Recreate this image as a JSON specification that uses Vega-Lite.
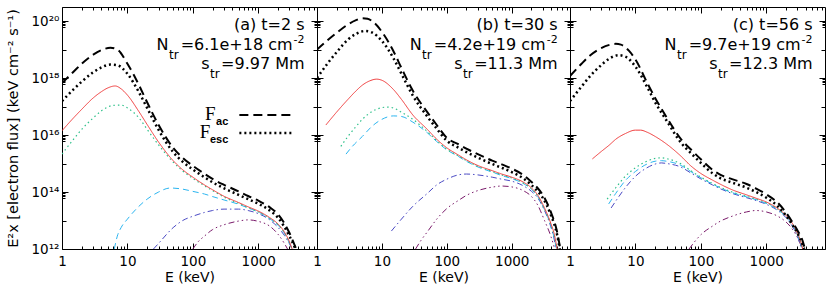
{
  "$schema": "https://vega.github.io/schema/vega-lite/v6.json",
  "padding": {"left": 5, "top": 6, "right": 2, "bottom": 0},
  "background": "white",
  "config": {
    "view": {"stroke": "black", "strokeWidth": 1},
    "font": "DejaVu Sans",
    "axis": {"grid": false, "domain": false, "labelFont": "DejaVu Sans", "titleFont": "DejaVu Sans", "labelFontSize": 13.5, "titleFontSize": 14, "titleFontWeight": "normal", "labelColor": "black", "titleColor": "black", "tickColor": "black", "tickWidth": 1, "labelFlush": false, "labelOverlap": false},
    "text": {"font": "DejaVu Sans", "color": "black", "fontSize": 16, "baseline": "middle", "align": "right"}
  },
  "datasets": {
    "curves": [
      {"p":"a","s":"s5","E":100,"F":1e12},{"p":"a","s":"s5","E":120,"F":1.78e12},{"p":"a","s":"s5","E":150,"F":2.82e12},{"p":"a","s":"s5","E":200,"F":4.79e12},{"p":"a","s":"s5","E":300,"F":7.08e12},{"p":"a","s":"s5","E":500,"F":9.55e12},{"p":"a","s":"s5","E":700,"F":1.05e13},{"p":"a","s":"s5","E":1000,"F":9.33e12},{"p":"a","s":"s5","E":1500,"F":6.31e12},{"p":"a","s":"s5","E":2000,"F":3.31e12},{"p":"a","s":"s5","E":2500,"F":1.58e12},{"p":"a","s":"s5","E":2800,"F":1e12},
      {"p":"a","s":"s4","E":25,"F":1e12},{"p":"a","s":"s4","E":30,"F":1.58e12},{"p":"a","s":"s4","E":50,"F":5.62e12},{"p":"a","s":"s4","E":70,"F":1e13},{"p":"a","s":"s4","E":100,"F":1.41e13},{"p":"a","s":"s4","E":150,"F":1.91e13},{"p":"a","s":"s4","E":200,"F":2.24e13},{"p":"a","s":"s4","E":300,"F":2.51e13},{"p":"a","s":"s4","E":500,"F":2.51e13},{"p":"a","s":"s4","E":700,"F":2.24e13},{"p":"a","s":"s4","E":1000,"F":1.74e13},{"p":"a","s":"s4","E":1500,"F":1.05e13},{"p":"a","s":"s4","E":2000,"F":5.75e12},{"p":"a","s":"s4","E":2500,"F":3.02e12},{"p":"a","s":"s4","E":3000,"F":1.51e12},{"p":"a","s":"s4","E":3300,"F":1e12},
      {"p":"a","s":"s3","E":6.3,"F":1e12},{"p":"a","s":"s3","E":7,"F":2.82e12},{"p":"a","s":"s3","E":8,"F":5.62e12},{"p":"a","s":"s3","E":10,"F":1.12e13},{"p":"a","s":"s3","E":15,"F":3.16e13},{"p":"a","s":"s3","E":20,"F":5.62e13},{"p":"a","s":"s3","E":30,"F":1e14},{"p":"a","s":"s3","E":45,"F":1.38e14},{"p":"a","s":"s3","E":70,"F":1.26e14},{"p":"a","s":"s3","E":100,"F":1.05e14},{"p":"a","s":"s3","E":150,"F":8.51e13},{"p":"a","s":"s3","E":200,"F":6.92e13},{"p":"a","s":"s3","E":300,"F":5.25e13},{"p":"a","s":"s3","E":500,"F":3.72e13},{"p":"a","s":"s3","E":700,"F":2.75e13},{"p":"a","s":"s3","E":1000,"F":2e13},{"p":"a","s":"s3","E":1500,"F":1.15e13},{"p":"a","s":"s3","E":2000,"F":6.92e12},{"p":"a","s":"s3","E":2500,"F":3.63e12},{"p":"a","s":"s3","E":3000,"F":1.58e12},{"p":"a","s":"s3","E":3300,"F":9.3e11},
      {"p":"a","s":"s2","E":1,"F":2.14e15},{"p":"a","s":"s2","E":1.5,"F":7.08e15},{"p":"a","s":"s2","E":2,"F":1.58e16},{"p":"a","s":"s2","E":3,"F":3.98e16},{"p":"a","s":"s2","E":4,"F":7.08e16},{"p":"a","s":"s2","E":5,"F":9.55e16},{"p":"a","s":"s2","E":6,"F":1.1e17},{"p":"a","s":"s2","E":8,"F":1.12e17},{"p":"a","s":"s2","E":10,"F":8.91e16},{"p":"a","s":"s2","E":15,"F":3.98e16},{"p":"a","s":"s2","E":20,"F":1.58e16},{"p":"a","s":"s2","E":30,"F":4.47e15},{"p":"a","s":"s2","E":50,"F":1.12e15},{"p":"a","s":"s2","E":70,"F":5.5e14},{"p":"a","s":"s2","E":100,"F":3.02e14},{"p":"a","s":"s2","E":150,"F":1.66e14},{"p":"a","s":"s2","E":200,"F":1.12e14},{"p":"a","s":"s2","E":300,"F":6.61e13},{"p":"a","s":"s2","E":500,"F":3.98e13},{"p":"a","s":"s2","E":700,"F":2.82e13},{"p":"a","s":"s2","E":1000,"F":2e13},{"p":"a","s":"s2","E":1500,"F":1.17e13},{"p":"a","s":"s2","E":2000,"F":7.08e12},{"p":"a","s":"s2","E":2500,"F":3.72e12},{"p":"a","s":"s2","E":3000,"F":1.66e12},{"p":"a","s":"s2","E":3300,"F":9.5e11},
      {"p":"a","s":"s1","E":1,"F":1.41e16},{"p":"a","s":"s1","E":1.5,"F":3.98e16},{"p":"a","s":"s1","E":2,"F":7.94e16},{"p":"a","s":"s1","E":3,"F":2e17},{"p":"a","s":"s1","E":4,"F":3.31e17},{"p":"a","s":"s1","E":5,"F":4.47e17},{"p":"a","s":"s1","E":6.5,"F":5.25e17},{"p":"a","s":"s1","E":8,"F":4.17e17},{"p":"a","s":"s1","E":10,"F":2.51e17},{"p":"a","s":"s1","E":15,"F":6.61e16},{"p":"a","s":"s1","E":20,"F":2.34e16},{"p":"a","s":"s1","E":30,"F":5.62e15},{"p":"a","s":"s1","E":50,"F":1.26e15},{"p":"a","s":"s1","E":70,"F":6.03e14},{"p":"a","s":"s1","E":100,"F":3.31e14},{"p":"a","s":"s1","E":150,"F":1.78e14},{"p":"a","s":"s1","E":200,"F":1.2e14},{"p":"a","s":"s1","E":300,"F":7.08e13},{"p":"a","s":"s1","E":500,"F":4.27e13},{"p":"a","s":"s1","E":700,"F":3.02e13},{"p":"a","s":"s1","E":1000,"F":2.14e13},{"p":"a","s":"s1","E":1500,"F":1.26e13},{"p":"a","s":"s1","E":2000,"F":7.59e12},{"p":"a","s":"s1","E":2500,"F":3.98e12},{"p":"a","s":"s1","E":3000,"F":1.78e12},{"p":"a","s":"s1","E":3300,"F":1e12},
      {"p":"a","s":"Fesc","E":1,"F":1.55e17},{"p":"a","s":"Fesc","E":1.5,"F":3.98e17},{"p":"a","s":"Fesc","E":2,"F":7.41e17},{"p":"a","s":"Fesc","E":3,"F":1.58e18},{"p":"a","s":"Fesc","E":4,"F":2.34e18},{"p":"a","s":"Fesc","E":5.5,"F":2.95e18},{"p":"a","s":"Fesc","E":7,"F":2.82e18},{"p":"a","s":"Fesc","E":10,"F":1.41e18},{"p":"a","s":"Fesc","E":15,"F":3.16e17},{"p":"a","s":"Fesc","E":20,"F":8.91e16},{"p":"a","s":"Fesc","E":30,"F":1.51e16},{"p":"a","s":"Fesc","E":50,"F":2.51e15},{"p":"a","s":"Fesc","E":70,"F":1.15e15},{"p":"a","s":"Fesc","E":100,"F":6.17e14},{"p":"a","s":"Fesc","E":150,"F":3.31e14},{"p":"a","s":"Fesc","E":200,"F":2.19e14},{"p":"a","s":"Fesc","E":300,"F":1.35e14},{"p":"a","s":"Fesc","E":500,"F":7.94e13},{"p":"a","s":"Fesc","E":700,"F":5.62e13},{"p":"a","s":"Fesc","E":1000,"F":3.89e13},{"p":"a","s":"Fesc","E":1500,"F":2.24e13},{"p":"a","s":"Fesc","E":2000,"F":1.26e13},{"p":"a","s":"Fesc","E":3000,"F":2.82e12},{"p":"a","s":"Fesc","E":3700,"F":1e12},
      {"p":"a","s":"Fac","E":1,"F":6.6e17},{"p":"a","s":"Fac","E":1.5,"F":1.66e18},{"p":"a","s":"Fac","E":2,"F":3.16e18},{"p":"a","s":"Fac","E":3,"F":6.61e18},{"p":"a","s":"Fac","E":4,"F":9.55e18},{"p":"a","s":"Fac","E":5.5,"F":1.15e19},{"p":"a","s":"Fac","E":7,"F":1e19},{"p":"a","s":"Fac","E":10,"F":3.16e18},{"p":"a","s":"Fac","E":15,"F":5.62e17},{"p":"a","s":"Fac","E":20,"F":1.41e17},{"p":"a","s":"Fac","E":30,"F":2.24e16},{"p":"a","s":"Fac","E":50,"F":3.55e15},{"p":"a","s":"Fac","E":70,"F":1.58e15},{"p":"a","s":"Fac","E":100,"F":8.32e14},{"p":"a","s":"Fac","E":150,"F":4.37e14},{"p":"a","s":"Fac","E":200,"F":2.88e14},{"p":"a","s":"Fac","E":300,"F":1.78e14},{"p":"a","s":"Fac","E":500,"F":1.05e14},{"p":"a","s":"Fac","E":700,"F":7.24e13},{"p":"a","s":"Fac","E":1000,"F":5.01e13},{"p":"a","s":"Fac","E":1500,"F":2.88e13},{"p":"a","s":"Fac","E":2000,"F":1.66e13},{"p":"a","s":"Fac","E":3000,"F":3.63e12},{"p":"a","s":"Fac","E":3800,"F":1e12},

      {"p":"b","s":"s5","E":33,"F":1e12},{"p":"b","s":"s5","E":40,"F":2e12},{"p":"b","s":"s5","E":50,"F":3.98e12},{"p":"b","s":"s5","E":70,"F":1.12e13},{"p":"b","s":"s5","E":100,"F":2.63e13},{"p":"b","s":"s5","E":150,"F":5.01e13},{"p":"b","s":"s5","E":200,"F":7.59e13},{"p":"b","s":"s5","E":300,"F":1.12e14},{"p":"b","s":"s5","E":500,"F":1.48e14},{"p":"b","s":"s5","E":700,"F":1.62e14},{"p":"b","s":"s5","E":1000,"F":1.51e14},{"p":"b","s":"s5","E":1500,"F":1.12e14},{"p":"b","s":"s5","E":2000,"F":7.08e13},{"p":"b","s":"s5","E":2500,"F":3.55e13},{"p":"b","s":"s5","E":3200,"F":1e13},{"p":"b","s":"s5","E":4000,"F":2.82e12},{"p":"b","s":"s5","E":4600,"F":1e12},
      {"p":"b","s":"s4","E":14,"F":4.27e12},{"p":"b","s":"s4","E":20,"F":1.12e13},{"p":"b","s":"s4","E":30,"F":3.16e13},{"p":"b","s":"s4","E":50,"F":8.91e13},{"p":"b","s":"s4","E":70,"F":1.78e14},{"p":"b","s":"s4","E":100,"F":2.82e14},{"p":"b","s":"s4","E":150,"F":3.98e14},{"p":"b","s":"s4","E":200,"F":4.27e14},{"p":"b","s":"s4","E":300,"F":3.98e14},{"p":"b","s":"s4","E":500,"F":3.31e14},{"p":"b","s":"s4","E":700,"F":2.82e14},{"p":"b","s":"s4","E":1000,"F":2.4e14},{"p":"b","s":"s4","E":1500,"F":1.66e14},{"p":"b","s":"s4","E":2000,"F":1.07e14},{"p":"b","s":"s4","E":2500,"F":6.31e13},{"p":"b","s":"s4","E":3200,"F":2.24e13},{"p":"b","s":"s4","E":4000,"F":6.03e12},{"p":"b","s":"s4","E":4500,"F":2.24e12},{"p":"b","s":"s4","E":4800,"F":1e12},
      {"p":"b","s":"s3","E":2.8,"F":2.14e15},{"p":"b","s":"s3","E":3.5,"F":3.98e15},{"p":"b","s":"s3","E":5,"F":8.91e15},{"p":"b","s":"s3","E":7,"F":2e16},{"p":"b","s":"s3","E":10,"F":3.55e16},{"p":"b","s":"s3","E":15,"F":4.68e16},{"p":"b","s":"s3","E":20,"F":4.47e16},{"p":"b","s":"s3","E":30,"F":2.82e16},{"p":"b","s":"s3","E":50,"F":1.2e16},{"p":"b","s":"s3","E":70,"F":5.89e15},{"p":"b","s":"s3","E":100,"F":3.02e15},{"p":"b","s":"s3","E":150,"F":1.78e15},{"p":"b","s":"s3","E":200,"F":1.2e15},{"p":"b","s":"s3","E":300,"F":7.59e14},{"p":"b","s":"s3","E":500,"F":5.01e14},{"p":"b","s":"s3","E":700,"F":3.8e14},{"p":"b","s":"s3","E":1000,"F":2.95e14},{"p":"b","s":"s3","E":1500,"F":2e14},{"p":"b","s":"s3","E":2000,"F":1.26e14},{"p":"b","s":"s3","E":2500,"F":7.08e13},{"p":"b","s":"s3","E":3200,"F":2.4e13},{"p":"b","s":"s3","E":4000,"F":6.61e12},{"p":"b","s":"s3","E":4500,"F":2.51e12},{"p":"b","s":"s3","E":4900,"F":1e12},
      {"p":"b","s":"s2","E":2.33,"F":3.98e15},{"p":"b","s":"s2","E":3,"F":8.91e15},{"p":"b","s":"s2","E":4,"F":2e16},{"p":"b","s":"s2","E":5,"F":3.55e16},{"p":"b","s":"s2","E":7,"F":6.61e16},{"p":"b","s":"s2","E":10,"F":9.12e16},{"p":"b","s":"s2","E":12,"F":9.55e16},{"p":"b","s":"s2","E":15,"F":8.91e16},{"p":"b","s":"s2","E":20,"F":6.31e16},{"p":"b","s":"s2","E":30,"F":3.55e16},{"p":"b","s":"s2","E":50,"F":1.32e16},{"p":"b","s":"s2","E":70,"F":6.31e15},{"p":"b","s":"s2","E":100,"F":3.16e15},{"p":"b","s":"s2","E":150,"F":1.86e15},{"p":"b","s":"s2","E":200,"F":1.26e15},{"p":"b","s":"s2","E":300,"F":7.94e14},{"p":"b","s":"s2","E":500,"F":5.25e14},{"p":"b","s":"s2","E":700,"F":3.98e14},{"p":"b","s":"s2","E":1000,"F":3.09e14},{"p":"b","s":"s2","E":1500,"F":2.09e14},{"p":"b","s":"s2","E":2000,"F":1.32e14},{"p":"b","s":"s2","E":2500,"F":7.41e13},{"p":"b","s":"s2","E":3200,"F":2.51e13},{"p":"b","s":"s2","E":4000,"F":7.24e12},{"p":"b","s":"s2","E":4600,"F":2.51e12},{"p":"b","s":"s2","E":5000,"F":9.3e11},
      {"p":"b","s":"s1","E":1.37,"F":2.24e16},{"p":"b","s":"s1","E":2,"F":6.31e16},{"p":"b","s":"s1","E":3,"F":1.78e17},{"p":"b","s":"s1","E":4,"F":3.55e17},{"p":"b","s":"s1","E":5,"F":5.62e17},{"p":"b","s":"s1","E":6.5,"F":7.94e17},{"p":"b","s":"s1","E":8.3,"F":9.12e17},{"p":"b","s":"s1","E":10,"F":8.32e17},{"p":"b","s":"s1","E":15,"F":3.98e17},{"p":"b","s":"s1","E":20,"F":1.78e17},{"p":"b","s":"s1","E":30,"F":5.01e16},{"p":"b","s":"s1","E":50,"F":1.58e16},{"p":"b","s":"s1","E":70,"F":7.08e15},{"p":"b","s":"s1","E":100,"F":3.55e15},{"p":"b","s":"s1","E":150,"F":2e15},{"p":"b","s":"s1","E":200,"F":1.35e15},{"p":"b","s":"s1","E":300,"F":8.51e14},{"p":"b","s":"s1","E":500,"F":5.62e14},{"p":"b","s":"s1","E":700,"F":4.27e14},{"p":"b","s":"s1","E":1000,"F":3.31e14},{"p":"b","s":"s1","E":1500,"F":2.24e14},{"p":"b","s":"s1","E":2000,"F":1.41e14},{"p":"b","s":"s1","E":2500,"F":7.94e13},{"p":"b","s":"s1","E":3200,"F":2.75e13},{"p":"b","s":"s1","E":4000,"F":7.94e12},{"p":"b","s":"s1","E":4600,"F":2.82e12},{"p":"b","s":"s1","E":5000,"F":1e12},
      {"p":"b","s":"Fesc","E":1,"F":1e18},{"p":"b","s":"Fesc","E":1.5,"F":3.55e18},{"p":"b","s":"Fesc","E":2,"F":7.94e18},{"p":"b","s":"Fesc","E":3,"F":2.24e19},{"p":"b","s":"Fesc","E":4,"F":3.55e19},{"p":"b","s":"Fesc","E":5.5,"F":4.47e19},{"p":"b","s":"Fesc","E":7,"F":3.98e19},{"p":"b","s":"Fesc","E":10,"F":2e19},{"p":"b","s":"Fesc","E":15,"F":5.01e18},{"p":"b","s":"Fesc","E":20,"F":1.41e18},{"p":"b","s":"Fesc","E":30,"F":2.4e17},{"p":"b","s":"Fesc","E":50,"F":4.47e16},{"p":"b","s":"Fesc","E":70,"F":1.66e16},{"p":"b","s":"Fesc","E":100,"F":6.31e15},{"p":"b","s":"Fesc","E":150,"F":3.63e15},{"p":"b","s":"Fesc","E":200,"F":2.51e15},{"p":"b","s":"Fesc","E":300,"F":1.62e15},{"p":"b","s":"Fesc","E":500,"F":9.55e14},{"p":"b","s":"Fesc","E":700,"F":7.08e14},{"p":"b","s":"Fesc","E":1000,"F":5.01e14},{"p":"b","s":"Fesc","E":1500,"F":3.02e14},{"p":"b","s":"Fesc","E":2000,"F":1.78e14},{"p":"b","s":"Fesc","E":2500,"F":1.07e14},{"p":"b","s":"Fesc","E":3000,"F":6.31e13},{"p":"b","s":"Fesc","E":4000,"F":1.58e13},{"p":"b","s":"Fesc","E":5000,"F":3.16e12},{"p":"b","s":"Fesc","E":5500,"F":1e12},
      {"p":"b","s":"Fac","E":1,"F":1e19},{"p":"b","s":"Fac","E":1.5,"F":2.24e19},{"p":"b","s":"Fac","E":2,"F":3.8e19},{"p":"b","s":"Fac","E":3,"F":7.59e19},{"p":"b","s":"Fac","E":4,"F":1.07e20},{"p":"b","s":"Fac","E":5,"F":1.26e20},{"p":"b","s":"Fac","E":6,"F":1.2e20},{"p":"b","s":"Fac","E":7.5,"F":8.91e19},{"p":"b","s":"Fac","E":10,"F":4.17e19},{"p":"b","s":"Fac","E":15,"F":8.91e18},{"p":"b","s":"Fac","E":20,"F":2.24e18},{"p":"b","s":"Fac","E":30,"F":3.55e17},{"p":"b","s":"Fac","E":50,"F":6.31e16},{"p":"b","s":"Fac","E":70,"F":2.24e16},{"p":"b","s":"Fac","E":100,"F":7.94e15},{"p":"b","s":"Fac","E":150,"F":4.79e15},{"p":"b","s":"Fac","E":200,"F":3.31e15},{"p":"b","s":"Fac","E":300,"F":2.14e15},{"p":"b","s":"Fac","E":500,"F":1.26e15},{"p":"b","s":"Fac","E":700,"F":9.33e14},{"p":"b","s":"Fac","E":1000,"F":6.61e14},{"p":"b","s":"Fac","E":1500,"F":3.98e14},{"p":"b","s":"Fac","E":2000,"F":2.29e14},{"p":"b","s":"Fac","E":2500,"F":1.38e14},{"p":"b","s":"Fac","E":3000,"F":7.94e13},{"p":"b","s":"Fac","E":4000,"F":2e13},{"p":"b","s":"Fac","E":5000,"F":3.98e12},{"p":"b","s":"Fac","E":5600,"F":1e12},

      {"p":"c","s":"s5","E":66,"F":1e12},{"p":"c","s":"s5","E":80,"F":1.78e12},{"p":"c","s":"s5","E":100,"F":3.16e12},{"p":"c","s":"s5","E":150,"F":6.31e12},{"p":"c","s":"s5","E":200,"F":9.55e12},{"p":"c","s":"s5","E":300,"F":1.41e13},{"p":"c","s":"s5","E":500,"F":2e13},{"p":"c","s":"s5","E":700,"F":2.24e13},{"p":"c","s":"s5","E":1000,"F":2e13},{"p":"c","s":"s5","E":1500,"F":1.41e13},{"p":"c","s":"s5","E":2000,"F":8.91e12},{"p":"c","s":"s5","E":2500,"F":5.01e12},{"p":"c","s":"s5","E":3000,"F":2.51e12},{"p":"c","s":"s5","E":3500,"F":1.12e12},
      {"p":"c","s":"s4","E":4.25,"F":2.75e13},{"p":"c","s":"s4","E":5,"F":4.79e13},{"p":"c","s":"s4","E":7,"F":1.41e14},{"p":"c","s":"s4","E":10,"F":3.55e14},{"p":"c","s":"s4","E":15,"F":7.08e14},{"p":"c","s":"s4","E":20,"F":9.55e14},{"p":"c","s":"s4","E":25,"F":1.05e15},{"p":"c","s":"s4","E":30,"F":1e15},{"p":"c","s":"s4","E":50,"F":7.41e14},{"p":"c","s":"s4","E":70,"F":4.68e14},{"p":"c","s":"s4","E":100,"F":2.88e14},{"p":"c","s":"s4","E":150,"F":1.78e14},{"p":"c","s":"s4","E":200,"F":1.29e14},{"p":"c","s":"s4","E":300,"F":8.91e13},{"p":"c","s":"s4","E":500,"F":6.31e13},{"p":"c","s":"s4","E":700,"F":5.01e13},{"p":"c","s":"s4","E":1000,"F":3.72e13},{"p":"c","s":"s4","E":1500,"F":2.24e13},{"p":"c","s":"s4","E":2000,"F":1.26e13},{"p":"c","s":"s4","E":2500,"F":6.31e12},{"p":"c","s":"s4","E":3000,"F":2.82e12},{"p":"c","s":"s4","E":3400,"F":1.12e12},
      {"p":"c","s":"s3","E":3.9,"F":3.8e13},{"p":"c","s":"s3","E":5,"F":8.91e13},{"p":"c","s":"s3","E":7,"F":2.51e14},{"p":"c","s":"s3","E":10,"F":5.25e14},{"p":"c","s":"s3","E":15,"F":9.55e14},{"p":"c","s":"s3","E":20,"F":1.2e15},{"p":"c","s":"s3","E":25,"F":1.26e15},{"p":"c","s":"s3","E":30,"F":1.2e15},{"p":"c","s":"s3","E":50,"F":8.51e14},{"p":"c","s":"s3","E":70,"F":5.25e14},{"p":"c","s":"s3","E":100,"F":3.16e14},{"p":"c","s":"s3","E":150,"F":1.91e14},{"p":"c","s":"s3","E":200,"F":1.38e14},{"p":"c","s":"s3","E":300,"F":9.55e13},{"p":"c","s":"s3","E":500,"F":6.76e13},{"p":"c","s":"s3","E":700,"F":5.37e13},{"p":"c","s":"s3","E":1000,"F":3.98e13},{"p":"c","s":"s3","E":1500,"F":2.4e13},{"p":"c","s":"s3","E":2000,"F":1.38e13},{"p":"c","s":"s3","E":2500,"F":7.08e12},{"p":"c","s":"s3","E":3000,"F":3.16e12},{"p":"c","s":"s3","E":3500,"F":1.12e12},
      {"p":"c","s":"s2","E":3.7,"F":5.62e13},{"p":"c","s":"s2","E":5,"F":1.41e14},{"p":"c","s":"s2","E":7,"F":3.55e14},{"p":"c","s":"s2","E":10,"F":7.08e14},{"p":"c","s":"s2","E":15,"F":1.2e15},{"p":"c","s":"s2","E":20,"F":1.51e15},{"p":"c","s":"s2","E":25,"F":1.58e15},{"p":"c","s":"s2","E":30,"F":1.48e15},{"p":"c","s":"s2","E":50,"F":9.55e14},{"p":"c","s":"s2","E":70,"F":5.62e14},{"p":"c","s":"s2","E":100,"F":3.31e14},{"p":"c","s":"s2","E":150,"F":2e14},{"p":"c","s":"s2","E":200,"F":1.45e14},{"p":"c","s":"s2","E":300,"F":1e14},{"p":"c","s":"s2","E":500,"F":7.08e13},{"p":"c","s":"s2","E":700,"F":5.62e13},{"p":"c","s":"s2","E":1000,"F":4.17e13},{"p":"c","s":"s2","E":1500,"F":2.51e13},{"p":"c","s":"s2","E":2000,"F":1.45e13},{"p":"c","s":"s2","E":2500,"F":7.59e12},{"p":"c","s":"s2","E":3000,"F":3.39e12},{"p":"c","s":"s2","E":3500,"F":1.26e12},{"p":"c","s":"s2","E":3600,"F":1e12},
      {"p":"c","s":"s1","E":2.2,"F":1.45e15},{"p":"c","s":"s1","E":3,"F":2.63e15},{"p":"c","s":"s1","E":4,"F":4.47e15},{"p":"c","s":"s1","E":5,"F":7.08e15},{"p":"c","s":"s1","E":7,"F":1.12e16},{"p":"c","s":"s1","E":10,"F":1.48e16},{"p":"c","s":"s1","E":12,"F":1.48e16},{"p":"c","s":"s1","E":15,"F":1.26e16},{"p":"c","s":"s1","E":20,"F":8.91e15},{"p":"c","s":"s1","E":30,"F":4.79e15},{"p":"c","s":"s1","E":50,"F":1.78e15},{"p":"c","s":"s1","E":70,"F":8.32e14},{"p":"c","s":"s1","E":100,"F":4.47e14},{"p":"c","s":"s1","E":150,"F":2.63e14},{"p":"c","s":"s1","E":200,"F":1.86e14},{"p":"c","s":"s1","E":300,"F":1.2e14},{"p":"c","s":"s1","E":500,"F":7.94e13},{"p":"c","s":"s1","E":700,"F":6.03e13},{"p":"c","s":"s1","E":1000,"F":4.47e13},{"p":"c","s":"s1","E":1500,"F":2.63e13},{"p":"c","s":"s1","E":2000,"F":1.51e13},{"p":"c","s":"s1","E":2500,"F":7.94e12},{"p":"c","s":"s1","E":3000,"F":3.55e12},{"p":"c","s":"s1","E":3500,"F":1.32e12},{"p":"c","s":"s1","E":3600,"F":1e12},
      {"p":"c","s":"Fesc","E":1,"F":1.55e17},{"p":"c","s":"Fesc","E":1.5,"F":5.01e17},{"p":"c","s":"Fesc","E":2,"F":1.12e18},{"p":"c","s":"Fesc","E":3,"F":2.82e18},{"p":"c","s":"Fesc","E":4,"F":4.79e18},{"p":"c","s":"Fesc","E":5.5,"F":6.31e18},{"p":"c","s":"Fesc","E":7,"F":5.62e18},{"p":"c","s":"Fesc","E":10,"F":2.51e18},{"p":"c","s":"Fesc","E":15,"F":5.01e17},{"p":"c","s":"Fesc","E":20,"F":1.41e17},{"p":"c","s":"Fesc","E":30,"F":3.16e16},{"p":"c","s":"Fesc","E":50,"F":5.25e15},{"p":"c","s":"Fesc","E":70,"F":2.34e15},{"p":"c","s":"Fesc","E":100,"F":1.05e15},{"p":"c","s":"Fesc","E":150,"F":4.57e14},{"p":"c","s":"Fesc","E":200,"F":3.02e14},{"p":"c","s":"Fesc","E":300,"F":2.14e14},{"p":"c","s":"Fesc","E":500,"F":1.41e14},{"p":"c","s":"Fesc","E":700,"F":1e14},{"p":"c","s":"Fesc","E":1000,"F":6.31e13},{"p":"c","s":"Fesc","E":1500,"F":3.16e13},{"p":"c","s":"Fesc","E":2000,"F":1.48e13},{"p":"c","s":"Fesc","E":2500,"F":7.08e12},{"p":"c","s":"Fesc","E":3000,"F":3.55e12},{"p":"c","s":"Fesc","E":3600,"F":1.41e12},{"p":"c","s":"Fesc","E":3800,"F":1e12},
      {"p":"c","s":"Fac","E":1,"F":1.17e18},{"p":"c","s":"Fac","E":1.5,"F":3.16e18},{"p":"c","s":"Fac","E":2,"F":6.03e18},{"p":"c","s":"Fac","E":3,"F":1.12e19},{"p":"c","s":"Fac","E":4,"F":1.45e19},{"p":"c","s":"Fac","E":5,"F":1.58e19},{"p":"c","s":"Fac","E":6,"F":1.48e19},{"p":"c","s":"Fac","E":8,"F":8.91e18},{"p":"c","s":"Fac","E":10,"F":4.47e18},{"p":"c","s":"Fac","E":15,"F":7.08e17},{"p":"c","s":"Fac","E":20,"F":2e17},{"p":"c","s":"Fac","E":30,"F":4.17e16},{"p":"c","s":"Fac","E":50,"F":7.08e15},{"p":"c","s":"Fac","E":70,"F":3.16e15},{"p":"c","s":"Fac","E":100,"F":1.41e15},{"p":"c","s":"Fac","E":150,"F":6.03e14},{"p":"c","s":"Fac","E":200,"F":3.98e14},{"p":"c","s":"Fac","E":300,"F":2.82e14},{"p":"c","s":"Fac","E":500,"F":1.91e14},{"p":"c","s":"Fac","E":700,"F":1.32e14},{"p":"c","s":"Fac","E":1000,"F":8.32e13},{"p":"c","s":"Fac","E":1500,"F":4.17e13},{"p":"c","s":"Fac","E":2000,"F":1.91e13},{"p":"c","s":"Fac","E":2500,"F":8.91e12},{"p":"c","s":"Fac","E":3000,"F":4.47e12},{"p":"c","s":"Fac","E":3600,"F":1.91e12},{"p":"c","s":"Fac","E":3900,"F":1e12}
    ],
    "notes": [
      {"p":"a","E":5100,"F1":7.2e19,"F2":1.45e19,"F3":3.1e18,"l1":"(a) t=2 s","l2":"=6.1e+18 cm","l3":"=9.97 Mm"},
      {"p":"b","E":5100,"F1":7.2e19,"F2":1.45e19,"F3":3.1e18,"l1":"(b) t=30 s","l2":"=4.2e+19 cm","l3":"=11.3 Mm"},
      {"p":"c","E":5100,"F1":7.2e19,"F2":1.45e19,"F3":3.1e18,"l1":"(c) t=56 s","l2":"=9.7e+19 cm","l3":"=12.3 Mm"}
    ]
  },
  "spacing": 0,
  "bounds": "flush",
  "hconcat": [
    {
      "width": 255, "height": 242,
      "resolve": {"axis": {"x": "independent", "y": "independent"}},
      "layer": [
        {
          "data": {"name": "curves"},
          "transform": [{"filter": "datum.p == 'a'"}],
          "mark": {"type": "line", "interpolate": "monotone", "clip": true},
          "encoding": {
            "x": {"field": "E", "type": "quantitative", "scale": {"type": "log", "domain": [1, 7900]}, "axis": {"orient": "bottom", "values": [1, 10, 100, 1000], "format": "d", "tickSize": -6, "labelPadding": 11, "title": "E (keV)", "titlePadding": 3}},
            "y": {"field": "F", "type": "quantitative", "scale": {"type": "log", "domain": [1e12, 3.1e20]}, "axis": {"orient": "left", "values": [1e12, 1e14, 1e16, 1e18, 1e20], "tickSize": -6, "labelPadding": 9, "labelExpr": "datum.value > 5e19 ? '10²⁰' : datum.value > 5e17 ? '10¹⁸' : datum.value > 5e15 ? '10¹⁶' : datum.value > 5e13 ? '10¹⁴' : '10¹²'", "title": "E²x [electron flux] (keV cm⁻² s⁻¹)", "titleFontSize": 14.5, "titlePadding": 10}},
            "color": {"field": "s", "type": "nominal", "scale": {"domain": ["s5","s4","s3","s2","s1","Fesc","Fac"], "range": ["#7a1a6a","#4a4ac4","#2bb5f0","#2ec08a","#f03a3a","#000000","#000000"]}, "legend": null},
            "strokeDash": {"field": "s", "type": "nominal", "scale": {"domain": ["s5","s4","s3","s2","s1","Fesc","Fac"], "range": [[6,3,1.5,3,1.5,3,1.5,3],[6,3,1.5,3],[6,4],[1.5,3],[1,0],[2,3],[9,5]]}, "legend": null},
            "strokeWidth": {"field": "s", "type": "nominal", "scale": {"type": "ordinal", "domain": ["s5","s4","s3","s2","s1","Fesc","Fac"], "range": [1,1,1,1.2,1,2.5,2]}, "legend": null}
          }
        },
        {
          "data": {"values": [{"E": 10, "F": 1e15}]},
          "mark": {"type": "point", "opacity": 0},
          "encoding": {
            "x": {"field": "E", "type": "quantitative", "scale": {"type": "log", "domain": [1, 7900]}, "axis": {"orient": "bottom", "values": [2,3,4,5,6,7,8,9,20,30,40,50,60,70,80,90,200,300,400,500,600,700,800,900,2000,3000,4000,5000,6000,7000], "tickSize": -3, "labels": false, "title": null}},
            "y": {"field": "F", "type": "quantitative", "scale": {"type": "log", "domain": [1e12, 3.1e20]}, "axis": {"orient": "left", "values": [1e13, 1e15, 1e17, 1e19], "tickSize": -4, "labels": false, "title": null}}
          }
        },
        {
          "data": {"values": [{"E": 10, "F": 1e15}]},
          "mark": {"type": "point", "opacity": 0},
          "encoding": {
            "x": {"field": "E", "type": "quantitative", "scale": {"type": "log", "domain": [1, 7900]}, "axis": {"orient": "top", "values": [1, 10, 100, 1000], "tickSize": -6, "labels": false, "title": null}},
            "y": {"field": "F", "type": "quantitative", "scale": {"type": "log", "domain": [1e12, 3.1e20]}, "axis": {"orient": "right", "values": [1e12, 1e14, 1e16, 1e18, 1e20], "tickSize": -6, "labels": false, "title": null}}
          }
        },
        {
          "data": {"values": [{"E": 10, "F": 1e15}]},
          "mark": {"type": "point", "opacity": 0},
          "encoding": {
            "x": {"field": "E", "type": "quantitative", "scale": {"type": "log", "domain": [1, 7900]}, "axis": {"orient": "top", "values": [2,3,4,5,6,7,8,9,20,30,40,50,60,70,80,90,200,300,400,500,600,700,800,900,2000,3000,4000,5000,6000,7000], "tickSize": -3, "labels": false, "title": null}},
            "y": {"field": "F", "type": "quantitative", "scale": {"type": "log", "domain": [1e12, 3.1e20]}, "axis": {"orient": "right", "values": [1e13, 1e15, 1e17, 1e19], "tickSize": -4, "labels": false, "title": null}}
          }
        },
        {
          "data": {"values": [{"E": 10, "F": 1e15}]},
          "mark": {"type": "point", "opacity": 0},
          "encoding": {
            "x": {"field": "E", "type": "quantitative", "scale": {"type": "log", "domain": [1, 7900]}, "axis": null},
            "y": {"field": "F", "type": "quantitative", "scale": {"type": "log", "domain": [1e12, 3.1e20]}, "axis": {"orient": "left", "values": [6e13,7e13,8e13,9e13,6e15,7e15,8e15,9e15,6e17,7e17,8e17,9e17,6e19,7e19,8e19,9e19], "tickSize": -3, "labels": false, "title": null}}
          }
        },
        {
          "data": {"values": [{"E": 10, "F": 1e15}]},
          "mark": {"type": "point", "opacity": 0},
          "encoding": {
            "x": {"field": "E", "type": "quantitative", "scale": {"type": "log", "domain": [1, 7900]}, "axis": null},
            "y": {"field": "F", "type": "quantitative", "scale": {"type": "log", "domain": [1e12, 3.1e20]}, "axis": {"orient": "right", "values": [6e13,7e13,8e13,9e13,6e15,7e15,8e15,9e15,6e17,7e17,8e17,9e17,6e19,7e19,8e19,9e19], "tickSize": -3, "labels": false, "title": null}}
          }
        },
        {
          "data": {"name": "notes"},
          "transform": [{"filter": "datum.p == 'a'"}],
          "encoding": {
            "x": {"field": "E", "type": "quantitative", "scale": {"type": "log", "domain": [1, 7900]}, "axis": null}
          },
          "layer": [
            {"mark": {"type": "text"}, "encoding": {"y": {"field": "F1", "type": "quantitative", "scale": {"type": "log", "domain": [1e12, 3.1e20]}, "axis": null}, "text": {"field": "l1"}}},
            {"mark": {"type": "text", "dx": -12}, "encoding": {"y": {"field": "F2", "type": "quantitative", "scale": {"type": "log", "domain": [1e12, 3.1e20]}, "axis": null}, "text": {"field": "l2"}}},
            {"mark": {"type": "text", "text": "-2", "fontSize": 11, "dy": -5}, "encoding": {"y": {"field": "F2", "type": "quantitative", "scale": {"type": "log", "domain": [1e12, 3.1e20]}, "axis": null}}},
            {"mark": {"type": "text", "text": "tr", "fontSize": 12, "dx": -126, "dy": 10}, "encoding": {"y": {"field": "F2", "type": "quantitative", "scale": {"type": "log", "domain": [1e12, 3.1e20]}, "axis": null}}},
            {"mark": {"type": "text", "text": "N", "dx": -136}, "encoding": {"y": {"field": "F2", "type": "quantitative", "scale": {"type": "log", "domain": [1e12, 3.1e20]}, "axis": null}}},
            {"mark": {"type": "text"}, "encoding": {"y": {"field": "F3", "type": "quantitative", "scale": {"type": "log", "domain": [1e12, 3.1e20]}, "axis": null}, "text": {"field": "l3"}}},
            {"mark": {"type": "text", "text": "tr", "fontSize": 12, "dx": -85, "dy": 10}, "encoding": {"y": {"field": "F3", "type": "quantitative", "scale": {"type": "log", "domain": [1e12, 3.1e20]}, "axis": null}}},
            {"mark": {"type": "text", "text": "s", "dx": -95}, "encoding": {"y": {"field": "F3", "type": "quantitative", "scale": {"type": "log", "domain": [1e12, 3.1e20]}, "axis": null}}}
          ]
        },
        {
          "data": {"values": [{"s": "Fac", "E": 514, "E2": 3500, "F": 5.0e16}, {"s": "Fesc", "E": 514, "E2": 3500, "F": 1.17e16}]},
          "mark": {"type": "rule"},
          "encoding": {
            "x": {"field": "E", "type": "quantitative", "scale": {"type": "log", "domain": [1, 7900]}, "axis": null},
            "x2": {"field": "E2"},
            "y": {"field": "F", "type": "quantitative", "scale": {"type": "log", "domain": [1e12, 3.1e20]}, "axis": null},
            "color": {"field": "s", "type": "nominal", "scale": {"domain": ["s5","s4","s3","s2","s1","Fesc","Fac"], "range": ["#7a1a6a","#4a4ac4","#2bb5f0","#2ec08a","#f03a3a","#000000","#000000"]}, "legend": null},
            "strokeDash": {"field": "s", "type": "nominal", "scale": {"domain": ["s5","s4","s3","s2","s1","Fesc","Fac"], "range": [[6,3,1.5,3,1.5,3,1.5,3],[6,3,1.5,3],[6,4],[1.5,3],[1,0],[2,3],[9,5]]}, "legend": null},
            "strokeWidth": {"field": "s", "type": "nominal", "scale": {"type": "ordinal", "domain": ["s5","s4","s3","s2","s1","Fesc","Fac"], "range": [1,1,1,1.2,1,2.5,2]}, "legend": null}
          }
        },
        {
          "data": {"values": [{"t": "F", "E": 222, "F": 5.0e16}, {"t": "F", "E": 185, "F": 1.17e16}]},
          "mark": {"type": "text", "align": "right", "baseline": "middle", "font": "Liberation Serif", "fontSize": 19, "dy": -1},
          "encoding": {
            "x": {"field": "E", "type": "quantitative", "scale": {"type": "log", "domain": [1, 7900]}, "axis": null},
            "y": {"field": "F", "type": "quantitative", "scale": {"type": "log", "domain": [1e12, 3.1e20]}, "axis": null},
            "text": {"field": "t"}
          }
        },
        {
          "data": {"values": [{"t": "ac", "E": 349, "F": 5.0e16}, {"t": "esc", "E": 349, "F": 1.17e16}]},
          "mark": {"type": "text", "align": "right", "baseline": "middle", "font": "Liberation Sans", "fontWeight": "bold", "fontSize": 11, "dy": 7},
          "encoding": {
            "x": {"field": "E", "type": "quantitative", "scale": {"type": "log", "domain": [1, 7900]}, "axis": null},
            "y": {"field": "F", "type": "quantitative", "scale": {"type": "log", "domain": [1e12, 3.1e20]}, "axis": null},
            "text": {"field": "t"}
          }
        }
      ]
    },
    {
      "width": 253, "height": 242,
      "resolve": {"axis": {"x": "independent", "y": "independent"}},
      "layer": [
        {
          "data": {"name": "curves"},
          "transform": [{"filter": "datum.p == 'b'"}],
          "mark": {"type": "line", "interpolate": "monotone", "clip": true},
          "encoding": {
            "x": {"field": "E", "type": "quantitative", "scale": {"type": "log", "domain": [1, 7900]}, "axis": {"orient": "bottom", "values": [1, 10, 100, 1000], "format": "d", "tickSize": -6, "labelPadding": 11, "title": "E (keV)", "titlePadding": 3}},
            "y": {"field": "F", "type": "quantitative", "scale": {"type": "log", "domain": [1e12, 3.1e20]}, "axis": {"orient": "left", "values": [1e12, 1e14, 1e16, 1e18, 1e20], "tickSize": -6, "labels": false, "title": null}},
            "color": {"field": "s", "type": "nominal", "scale": {"domain": ["s5","s4","s3","s2","s1","Fesc","Fac"], "range": ["#7a1a6a","#4a4ac4","#2bb5f0","#2ec08a","#f03a3a","#000000","#000000"]}, "legend": null},
            "strokeDash": {"field": "s", "type": "nominal", "scale": {"domain": ["s5","s4","s3","s2","s1","Fesc","Fac"], "range": [[6,3,1.5,3,1.5,3,1.5,3],[6,3,1.5,3],[6,4],[1.5,3],[1,0],[2,3],[9,5]]}, "legend": null},
            "strokeWidth": {"field": "s", "type": "nominal", "scale": {"type": "ordinal", "domain": ["s5","s4","s3","s2","s1","Fesc","Fac"], "range": [1,1,1,1.2,1,2.5,2]}, "legend": null}
          }
        },
        {
          "data": {"values": [{"E": 10, "F": 1e15}]},
          "mark": {"type": "point", "opacity": 0},
          "encoding": {
            "x": {"field": "E", "type": "quantitative", "scale": {"type": "log", "domain": [1, 7900]}, "axis": {"orient": "bottom", "values": [2,3,4,5,6,7,8,9,20,30,40,50,60,70,80,90,200,300,400,500,600,700,800,900,2000,3000,4000,5000,6000,7000], "tickSize": -3, "labels": false, "title": null}},
            "y": {"field": "F", "type": "quantitative", "scale": {"type": "log", "domain": [1e12, 3.1e20]}, "axis": {"orient": "left", "values": [1e13, 1e15, 1e17, 1e19], "tickSize": -4, "labels": false, "title": null}}
          }
        },
        {
          "data": {"values": [{"E": 10, "F": 1e15}]},
          "mark": {"type": "point", "opacity": 0},
          "encoding": {
            "x": {"field": "E", "type": "quantitative", "scale": {"type": "log", "domain": [1, 7900]}, "axis": {"orient": "top", "values": [1, 10, 100, 1000], "tickSize": -6, "labels": false, "title": null}},
            "y": {"field": "F", "type": "quantitative", "scale": {"type": "log", "domain": [1e12, 3.1e20]}, "axis": {"orient": "right", "values": [1e12, 1e14, 1e16, 1e18, 1e20], "tickSize": -6, "labels": false, "title": null}}
          }
        },
        {
          "data": {"values": [{"E": 10, "F": 1e15}]},
          "mark": {"type": "point", "opacity": 0},
          "encoding": {
            "x": {"field": "E", "type": "quantitative", "scale": {"type": "log", "domain": [1, 7900]}, "axis": {"orient": "top", "values": [2,3,4,5,6,7,8,9,20,30,40,50,60,70,80,90,200,300,400,500,600,700,800,900,2000,3000,4000,5000,6000,7000], "tickSize": -3, "labels": false, "title": null}},
            "y": {"field": "F", "type": "quantitative", "scale": {"type": "log", "domain": [1e12, 3.1e20]}, "axis": {"orient": "right", "values": [1e13, 1e15, 1e17, 1e19], "tickSize": -4, "labels": false, "title": null}}
          }
        },
        {
          "data": {"values": [{"E": 10, "F": 1e15}]},
          "mark": {"type": "point", "opacity": 0},
          "encoding": {
            "x": {"field": "E", "type": "quantitative", "scale": {"type": "log", "domain": [1, 7900]}, "axis": null},
            "y": {"field": "F", "type": "quantitative", "scale": {"type": "log", "domain": [1e12, 3.1e20]}, "axis": {"orient": "left", "values": [6e13,7e13,8e13,9e13,6e15,7e15,8e15,9e15,6e17,7e17,8e17,9e17,6e19,7e19,8e19,9e19], "tickSize": -3, "labels": false, "title": null}}
          }
        },
        {
          "data": {"values": [{"E": 10, "F": 1e15}]},
          "mark": {"type": "point", "opacity": 0},
          "encoding": {
            "x": {"field": "E", "type": "quantitative", "scale": {"type": "log", "domain": [1, 7900]}, "axis": null},
            "y": {"field": "F", "type": "quantitative", "scale": {"type": "log", "domain": [1e12, 3.1e20]}, "axis": {"orient": "right", "values": [6e13,7e13,8e13,9e13,6e15,7e15,8e15,9e15,6e17,7e17,8e17,9e17,6e19,7e19,8e19,9e19], "tickSize": -3, "labels": false, "title": null}}
          }
        },
        {
          "data": {"name": "notes"},
          "transform": [{"filter": "datum.p == 'b'"}],
          "encoding": {
            "x": {"field": "E", "type": "quantitative", "scale": {"type": "log", "domain": [1, 7900]}, "axis": null}
          },
          "layer": [
            {"mark": {"type": "text"}, "encoding": {"y": {"field": "F1", "type": "quantitative", "scale": {"type": "log", "domain": [1e12, 3.1e20]}, "axis": null}, "text": {"field": "l1"}}},
            {"mark": {"type": "text", "dx": -12}, "encoding": {"y": {"field": "F2", "type": "quantitative", "scale": {"type": "log", "domain": [1e12, 3.1e20]}, "axis": null}, "text": {"field": "l2"}}},
            {"mark": {"type": "text", "text": "-2", "fontSize": 11, "dy": -5}, "encoding": {"y": {"field": "F2", "type": "quantitative", "scale": {"type": "log", "domain": [1e12, 3.1e20]}, "axis": null}}},
            {"mark": {"type": "text", "text": "tr", "fontSize": 12, "dx": -126, "dy": 10}, "encoding": {"y": {"field": "F2", "type": "quantitative", "scale": {"type": "log", "domain": [1e12, 3.1e20]}, "axis": null}}},
            {"mark": {"type": "text", "text": "N", "dx": -136}, "encoding": {"y": {"field": "F2", "type": "quantitative", "scale": {"type": "log", "domain": [1e12, 3.1e20]}, "axis": null}}},
            {"mark": {"type": "text"}, "encoding": {"y": {"field": "F3", "type": "quantitative", "scale": {"type": "log", "domain": [1e12, 3.1e20]}, "axis": null}, "text": {"field": "l3"}}},
            {"mark": {"type": "text", "text": "tr", "fontSize": 12, "dx": -85, "dy": 10}, "encoding": {"y": {"field": "F3", "type": "quantitative", "scale": {"type": "log", "domain": [1e12, 3.1e20]}, "axis": null}}},
            {"mark": {"type": "text", "text": "s", "dx": -95}, "encoding": {"y": {"field": "F3", "type": "quantitative", "scale": {"type": "log", "domain": [1e12, 3.1e20]}, "axis": null}}}
          ]
        }
      ]
    },
    {
      "width": 255, "height": 242,
      "resolve": {"axis": {"x": "independent", "y": "independent"}},
      "layer": [
        {
          "data": {"name": "curves"},
          "transform": [{"filter": "datum.p == 'c'"}],
          "mark": {"type": "line", "interpolate": "monotone", "clip": true},
          "encoding": {
            "x": {"field": "E", "type": "quantitative", "scale": {"type": "log", "domain": [1, 7900]}, "axis": {"orient": "bottom", "values": [1, 10, 100, 1000], "format": "d", "tickSize": -6, "labelPadding": 11, "title": "E (keV)", "titlePadding": 3}},
            "y": {"field": "F", "type": "quantitative", "scale": {"type": "log", "domain": [1e12, 3.1e20]}, "axis": {"orient": "left", "values": [1e12, 1e14, 1e16, 1e18, 1e20], "tickSize": -6, "labels": false, "title": null}},
            "color": {"field": "s", "type": "nominal", "scale": {"domain": ["s5","s4","s3","s2","s1","Fesc","Fac"], "range": ["#7a1a6a","#4a4ac4","#2bb5f0","#2ec08a","#f03a3a","#000000","#000000"]}, "legend": null},
            "strokeDash": {"field": "s", "type": "nominal", "scale": {"domain": ["s5","s4","s3","s2","s1","Fesc","Fac"], "range": [[6,3,1.5,3,1.5,3,1.5,3],[6,3,1.5,3],[6,4],[1.5,3],[1,0],[2,3],[9,5]]}, "legend": null},
            "strokeWidth": {"field": "s", "type": "nominal", "scale": {"type": "ordinal", "domain": ["s5","s4","s3","s2","s1","Fesc","Fac"], "range": [1,1,1,1.2,1,2.5,2]}, "legend": null}
          }
        },
        {
          "data": {"values": [{"E": 10, "F": 1e15}]},
          "mark": {"type": "point", "opacity": 0},
          "encoding": {
            "x": {"field": "E", "type": "quantitative", "scale": {"type": "log", "domain": [1, 7900]}, "axis": {"orient": "bottom", "values": [2,3,4,5,6,7,8,9,20,30,40,50,60,70,80,90,200,300,400,500,600,700,800,900,2000,3000,4000,5000,6000,7000], "tickSize": -3, "labels": false, "title": null}},
            "y": {"field": "F", "type": "quantitative", "scale": {"type": "log", "domain": [1e12, 3.1e20]}, "axis": {"orient": "left", "values": [1e13, 1e15, 1e17, 1e19], "tickSize": -4, "labels": false, "title": null}}
          }
        },
        {
          "data": {"values": [{"E": 10, "F": 1e15}]},
          "mark": {"type": "point", "opacity": 0},
          "encoding": {
            "x": {"field": "E", "type": "quantitative", "scale": {"type": "log", "domain": [1, 7900]}, "axis": {"orient": "top", "values": [1, 10, 100, 1000], "tickSize": -6, "labels": false, "title": null}},
            "y": {"field": "F", "type": "quantitative", "scale": {"type": "log", "domain": [1e12, 3.1e20]}, "axis": {"orient": "right", "values": [1e12, 1e14, 1e16, 1e18, 1e20], "tickSize": -6, "labels": false, "title": null}}
          }
        },
        {
          "data": {"values": [{"E": 10, "F": 1e15}]},
          "mark": {"type": "point", "opacity": 0},
          "encoding": {
            "x": {"field": "E", "type": "quantitative", "scale": {"type": "log", "domain": [1, 7900]}, "axis": {"orient": "top", "values": [2,3,4,5,6,7,8,9,20,30,40,50,60,70,80,90,200,300,400,500,600,700,800,900,2000,3000,4000,5000,6000,7000], "tickSize": -3, "labels": false, "title": null}},
            "y": {"field": "F", "type": "quantitative", "scale": {"type": "log", "domain": [1e12, 3.1e20]}, "axis": {"orient": "right", "values": [1e13, 1e15, 1e17, 1e19], "tickSize": -4, "labels": false, "title": null}}
          }
        },
        {
          "data": {"values": [{"E": 10, "F": 1e15}]},
          "mark": {"type": "point", "opacity": 0},
          "encoding": {
            "x": {"field": "E", "type": "quantitative", "scale": {"type": "log", "domain": [1, 7900]}, "axis": null},
            "y": {"field": "F", "type": "quantitative", "scale": {"type": "log", "domain": [1e12, 3.1e20]}, "axis": {"orient": "left", "values": [6e13,7e13,8e13,9e13,6e15,7e15,8e15,9e15,6e17,7e17,8e17,9e17,6e19,7e19,8e19,9e19], "tickSize": -3, "labels": false, "title": null}}
          }
        },
        {
          "data": {"values": [{"E": 10, "F": 1e15}]},
          "mark": {"type": "point", "opacity": 0},
          "encoding": {
            "x": {"field": "E", "type": "quantitative", "scale": {"type": "log", "domain": [1, 7900]}, "axis": null},
            "y": {"field": "F", "type": "quantitative", "scale": {"type": "log", "domain": [1e12, 3.1e20]}, "axis": {"orient": "right", "values": [6e13,7e13,8e13,9e13,6e15,7e15,8e15,9e15,6e17,7e17,8e17,9e17,6e19,7e19,8e19,9e19], "tickSize": -3, "labels": false, "title": null}}
          }
        },
        {
          "data": {"name": "notes"},
          "transform": [{"filter": "datum.p == 'c'"}],
          "encoding": {
            "x": {"field": "E", "type": "quantitative", "scale": {"type": "log", "domain": [1, 7900]}, "axis": null}
          },
          "layer": [
            {"mark": {"type": "text"}, "encoding": {"y": {"field": "F1", "type": "quantitative", "scale": {"type": "log", "domain": [1e12, 3.1e20]}, "axis": null}, "text": {"field": "l1"}}},
            {"mark": {"type": "text", "dx": -12}, "encoding": {"y": {"field": "F2", "type": "quantitative", "scale": {"type": "log", "domain": [1e12, 3.1e20]}, "axis": null}, "text": {"field": "l2"}}},
            {"mark": {"type": "text", "text": "-2", "fontSize": 11, "dy": -5}, "encoding": {"y": {"field": "F2", "type": "quantitative", "scale": {"type": "log", "domain": [1e12, 3.1e20]}, "axis": null}}},
            {"mark": {"type": "text", "text": "tr", "fontSize": 12, "dx": -126, "dy": 10}, "encoding": {"y": {"field": "F2", "type": "quantitative", "scale": {"type": "log", "domain": [1e12, 3.1e20]}, "axis": null}}},
            {"mark": {"type": "text", "text": "N", "dx": -136}, "encoding": {"y": {"field": "F2", "type": "quantitative", "scale": {"type": "log", "domain": [1e12, 3.1e20]}, "axis": null}}},
            {"mark": {"type": "text"}, "encoding": {"y": {"field": "F3", "type": "quantitative", "scale": {"type": "log", "domain": [1e12, 3.1e20]}, "axis": null}, "text": {"field": "l3"}}},
            {"mark": {"type": "text", "text": "tr", "fontSize": 12, "dx": -85, "dy": 10}, "encoding": {"y": {"field": "F3", "type": "quantitative", "scale": {"type": "log", "domain": [1e12, 3.1e20]}, "axis": null}}},
            {"mark": {"type": "text", "text": "s", "dx": -95}, "encoding": {"y": {"field": "F3", "type": "quantitative", "scale": {"type": "log", "domain": [1e12, 3.1e20]}, "axis": null}}}
          ]
        }
      ]
    }
  ]
}
